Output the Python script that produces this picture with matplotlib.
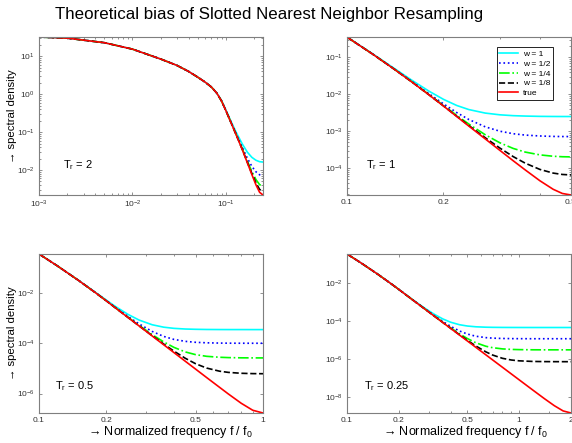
import matplotlib

matplotlib.use("Agg")
import matplotlib.pyplot as plt
import numpy as np
from matplotlib.ticker import FixedLocator, LogLocator, NullFormatter, NullLocator

plt.rcParams["font.family"] = ["Liberation Sans", "DejaVu Sans"]

# spectral density values are stored as log10 (decades)

# T_r = 2
freq_tr2 = [0.001, 0.002, 0.005, 0.01, 0.02, 0.03, 0.04, 0.05, 0.06, 0.07, 0.08,
            0.09, 0.1, 0.115, 0.13, 0.15, 0.17, 0.19, 0.21, 0.23, 0.25]
true_tr2 = [1.51, 1.48, 1.36, 1.19, 0.93, 0.76, 0.60, 0.45, 0.32, 0.19, 0.03,
            -0.18, -0.43, -0.78, -1.09, -1.46, -1.81, -2.12, -2.39, -2.59, -2.66]
w1_tr2 = [1.51, 1.48, 1.36, 1.19, 0.93, 0.76, 0.60, 0.45, 0.32, 0.19, 0.03,
          -0.17, -0.414, -0.745, -1.021, -1.313, -1.530, -1.666, -1.743, -1.781, -1.791]
w2_tr2 = [1.51, 1.48, 1.36, 1.19, 0.93, 0.76, 0.60, 0.45, 0.32, 0.19, 0.03,
          -0.177, -0.424, -0.767, -1.065, -1.403, -1.691, -1.904, -2.047, -2.127, -2.150]
w4_tr2 = [1.51, 1.48, 1.36, 1.19, 0.93, 0.76, 0.60, 0.45, 0.32, 0.19, 0.03,
          -0.18, -0.428, -0.776, -1.082, -1.441, -1.769, -2.040, -2.252, -2.387, -2.430]
w8_tr2 = [1.51, 1.48, 1.36, 1.19, 0.93, 0.76, 0.60, 0.45, 0.32, 0.19, 0.03,
          -0.18, -0.43, -0.78, -1.087, -1.454, -1.796, -2.092, -2.340, -2.513, -2.571]

# T_r = 1
freq_tr1 = [0.1, 0.12, 0.14, 0.16, 0.18, 0.2, 0.22, 0.24, 0.27, 0.3, 0.33, 0.36,
            0.4, 0.44, 0.47, 0.5]
true_tr1 = [-0.450, -0.906, -1.311, -1.676, -2.010, -2.316, -2.600, -2.859,
            -3.206, -3.517, -3.797, -4.047, -4.340, -4.571, -4.684, -4.725]
w1_tr1 = [-0.447, -0.897, -1.289, -1.627, -1.911, -2.135, -2.301, -2.412,
          -2.507, -2.554, -2.577, -2.588, -2.596, -2.599, -2.600, -2.600]
w2_tr1 = [-0.449, -0.903, -1.305, -1.662, -1.980, -2.257, -2.493, -2.681,
          -2.879, -2.998, -3.066, -3.103, -3.127, -3.139, -3.142, -3.143]
w4_tr1 = [-0.450, -0.905, -1.309, -1.672, -2.002, -2.300, -2.569, -2.805,
          -3.094, -3.312, -3.464, -3.563, -3.639, -3.676, -3.689, -3.693]
w8_tr1 = [-0.450, -0.906, -1.311, -1.675, -2.008, -2.312, -2.592, -2.844,
          -3.175, -3.455, -3.685, -3.864, -4.033, -4.132, -4.169, -4.182]

# T_r = 0.5
freq_tr05 = [0.1, 0.12, 0.15, 0.18, 0.2, 0.22, 0.25, 0.28, 0.32, 0.36, 0.4, 0.45,
             0.5, 0.56, 0.64, 0.7, 0.8, 0.9, 1.0]
true_tr05 = [-0.450, -0.906, -1.498, -2.010, -2.316, -2.600, -2.979, -3.313, -3.708,
             -4.056, -4.367, -4.715, -5.026, -5.361, -5.752, -6.014, -6.387, -6.663, -6.772]
w1_tr05 = [-0.450, -0.905, -1.493, -1.995, -2.286, -2.543, -2.854, -3.078, -3.263,
           -3.359, -3.406, -3.433, -3.444, -3.451, -3.454, -3.455, -3.455, -3.456, -3.456]
w2_tr05 = [-0.450, -0.906, -1.497, -2.006, -2.307, -2.583, -2.939, -3.232, -3.529,
           -3.726, -3.845, -3.923, -3.961, -3.981, -3.992, -3.996, -3.998, -3.999, -3.999]
w4_tr05 = [-0.450, -0.906, -1.498, -2.009, -2.314, -2.595, -2.968, -3.290, -3.654,
           -3.943, -4.161, -4.344, -4.451, -4.518, -4.556, -4.569, -4.578, -4.581, -4.582]
w8_tr05 = [-0.450, -0.906, -1.498, -2.010, -2.316, -2.600, -2.976, -3.308, -3.695,
           -4.027, -4.310, -4.597, -4.812, -4.985, -5.110, -5.157, -5.193, -5.206, -5.210]

# T_r = 0.25
freq_tr025 = [0.1, 0.12, 0.15, 0.18, 0.2, 0.22, 0.25, 0.28, 0.32, 0.36, 0.4, 0.45,
              0.5, 0.56, 0.64, 0.7, 0.8, 0.9, 1.0, 1.2, 1.4, 1.6, 1.8, 2.0]
true_tr025 = [-0.450, -0.906, -1.498, -2.010, -2.316, -2.600, -2.979, -3.313, -3.708,
              -4.056, -4.367, -4.715, -5.026, -5.361, -5.755, -6.020, -6.414, -6.762,
              -7.073, -7.611, -8.061, -8.434, -8.710, -8.819]
w1_tr025 = [-0.450, -0.906, -1.497, -2.008, -2.312, -2.592, -2.959, -3.272, -3.613,
            -3.867, -4.041, -4.172, -4.241, -4.281, -4.303, -4.310, -4.315, -4.317,
            -4.318, -4.319, -4.319, -4.319, -4.319, -4.319]
w2_tr025 = [-0.450, -0.906, -1.498, -2.009, -2.315, -2.598, -2.974, -3.302, -3.682,
            -3.999, -4.258, -4.501, -4.663, -4.778, -4.852, -4.878, -4.897, -4.904,
            -4.907, -4.910, -4.910, -4.910, -4.910, -4.910]
w4_tr025 = [-0.450, -0.906, -1.498, -2.010, -2.316, -2.600, -2.978, -3.310, -3.701,
            -4.040, -4.336, -4.648, -4.899, -5.122, -5.305, -5.381, -5.445, -5.472,
            -5.483, -5.492, -5.494, -5.494, -5.494, -5.494]
w8_tr025 = [-0.450, -0.906, -1.498, -2.010, -2.316, -2.600, -2.979, -3.312, -3.706,
            -4.052, -4.359, -4.698, -4.992, -5.291, -5.599, -5.766, -5.941, -6.030,
            -6.073, -6.105, -6.114, -6.117, -6.118, -6.118]

SERIES_LABELS = ["w = 1", "w = 1/2", "w = 1/4", "w = 1/8", "true"]
SERIES_STYLES = [("#00ffff", "-"), ("#0000ff", ":"), ("#00ff00", "-."),
                 ("#000000", "--"), ("#ff0000", "-")]

FIG_W, FIG_H = 572, 443
FRAME = "#7f7f7f"
TICK_TEXT = "#333333"


def px_axes(fig, left, top, right, bottom):
    return fig.add_axes([left / FIG_W, 1 - bottom / FIG_H,
                         (right - left) / FIG_W, (bottom - top) / FIG_H])


def fig_text(fig, x, y, s, **kw):
    return fig.text(x / FIG_W, 1 - y / FIG_H, s, **kw)


def draw_panel(ax, freq, curves):
    for vals, (color, ls) in zip(curves, SERIES_STYLES):
        ax.plot(freq, 10 ** np.asarray(vals), color=color, linestyle=ls, linewidth=1.2)
    ax.set_xscale("log")
    ax.set_yscale("log")
    ax.set_xlim(freq[0], freq[-1])
    all_vals = np.concatenate([np.asarray(v) for v in curves])
    ax.set_ylim(10 ** all_vals.min(), 10 ** all_vals.max())
    for sp in ax.spines.values():
        sp.set_color(FRAME)
        sp.set_linewidth(0.8)
    ax.tick_params(which="both", direction="in", top=True, right=True,
                   color=FRAME, labelcolor=TICK_TEXT, labelsize=6, width=0.6, pad=3)
    ax.tick_params(which="major", length=2.5)
    ax.tick_params(which="minor", length=1.5)
    ax.xaxis.set_minor_formatter(NullFormatter())
    ax.yaxis.set_minor_formatter(NullFormatter())


fig = plt.figure(figsize=(FIG_W / 100, FIG_H / 100), dpi=100)

ax_a = px_axes(fig, 39, 37, 263, 195)
ax_b = px_axes(fig, 347, 37, 571, 195)
ax_c = px_axes(fig, 39, 254, 263, 413)
ax_d = px_axes(fig, 347, 254, 571, 413)

draw_panel(ax_a, freq_tr2, [w1_tr2, w2_tr2, w4_tr2, w8_tr2, true_tr2])
draw_panel(ax_b, freq_tr1, [w1_tr1, w2_tr1, w4_tr1, w8_tr1, true_tr1])
draw_panel(ax_c, freq_tr05, [w1_tr05, w2_tr05, w4_tr05, w8_tr05, true_tr05])
draw_panel(ax_d, freq_tr025, [w1_tr025, w2_tr025, w4_tr025, w8_tr025, true_tr025])

# tick layout
ax_a.xaxis.set_minor_locator(LogLocator(base=10, subs=np.arange(2, 10)))
ax_a.yaxis.set_minor_locator(LogLocator(base=10, subs=np.arange(2, 10)))

ax_b.set_xticks([0.1, 0.2, 0.5], ["0.1", "0.2", "0.5"])
ax_b.xaxis.set_minor_locator(FixedLocator([0.3, 0.4]))
ax_b.yaxis.set_major_locator(FixedLocator([1e-1, 1e-2, 1e-3, 1e-4]))
ax_b.yaxis.set_minor_locator(LogLocator(base=10, subs=np.arange(2, 10)))

ax_c.set_xticks([0.1, 0.2, 0.5, 1.0], ["0.1", "0.2", "0.5", "1"])
ax_c.xaxis.set_minor_locator(FixedLocator([0.3, 0.4, 0.6, 0.7, 0.8, 0.9]))
ax_c.yaxis.set_major_locator(FixedLocator([1e-2, 1e-4, 1e-6]))
ax_c.yaxis.set_minor_locator(NullLocator())

ax_d.set_xticks([0.1, 0.2, 0.5, 1.0, 2.0], ["0.1", "0.2", "0.5", "1", "2"])
ax_d.xaxis.set_minor_locator(FixedLocator([0.3, 0.4, 0.6, 0.7, 0.8, 0.9, 1.5]))
ax_d.yaxis.set_major_locator(FixedLocator([1e-2, 1e-4, 1e-6, 1e-8]))
ax_d.yaxis.set_minor_locator(NullLocator())

leg = ax_b.legend(SERIES_LABELS, loc="upper right", bbox_to_anchor=(0.92, 0.937),
                  fontsize=6, fancybox=False, framealpha=1, edgecolor="#000000",
                  borderaxespad=0, borderpad=0.35, labelspacing=0.25,
                  handlelength=2.2, handletextpad=0.6)
leg.get_frame().set_linewidth(0.6)

fig_text(fig, 269, 14, "Theoretical bias of Slotted Nearest Neighbor Resampling",
         ha="center", va="center", fontsize=12.2)

for yc in (116, 333.5):
    fig_text(fig, 12, yc, "\u2192 spectral density", rotation=90,
             ha="center", va="center", fontsize=8.2)

xlab = "\u2192 Normalized frequency f / $\\mathregular{f_0}$"
fig_text(fig, 171, 432, xlab, ha="center", va="center", fontsize=9)
fig_text(fig, 466, 432, xlab, ha="center", va="center", fontsize=9)

for x, y, tr in [(63, 165, "2"), (366, 165, "1"), (55, 386, "0.5"), (364, 386, "0.25")]:
    fig_text(fig, x, y, "$\\mathregular{T_r}$ = " + tr, ha="left", va="center", fontsize=8)

fig.savefig("out.png", dpi=100, facecolor="white")
